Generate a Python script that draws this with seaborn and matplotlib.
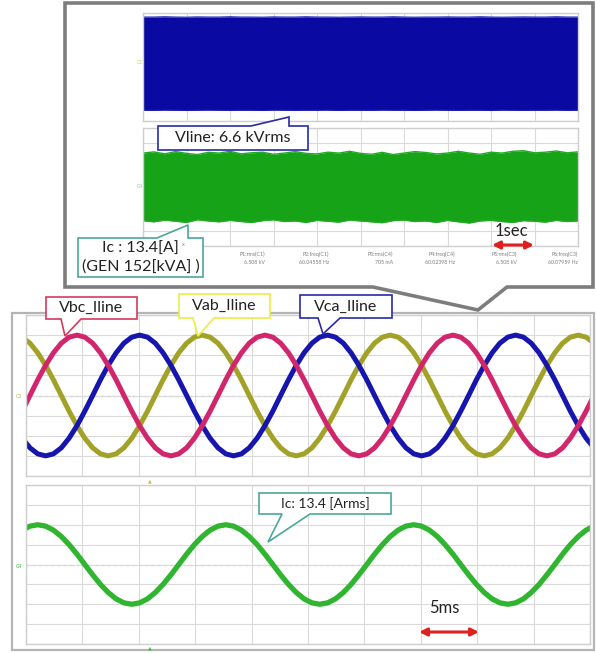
import numpy as np
import pandas as pd
import matplotlib
matplotlib.use("Agg")
import matplotlib.pyplot as plt
import seaborn as sns
from matplotlib.patches import Polygon

# ---------------- data ----------------
# bottom panels: time in ms (10 div x 5 ms), amplitude in divisions
t_ms = [-0.34, 0.35, 1.04, 1.74, 2.43, 3.13, 3.82, 4.52, 5.21, 5.91, 6.60, 7.29, 7.99, 8.68,
        9.38, 10.07, 10.77, 11.46, 12.15, 12.85, 13.54, 14.24, 14.93, 15.63, 16.32, 17.02,
        17.71, 18.40, 19.10, 19.79, 20.49, 21.18, 21.88, 22.57, 23.27, 23.96, 24.65, 25.35,
        26.04, 26.74, 27.43, 28.13, 28.82, 29.51, 30.21, 30.90, 31.60, 32.29, 32.99, 33.68,
        34.38, 35.07, 35.76, 36.46, 37.15, 37.85, 38.54, 39.24, 39.93, 40.63, 41.32, 42.01,
        42.71, 43.40, 44.10, 44.79, 45.49, 46.18, 46.88, 47.57, 48.26, 48.96, 49.65, 50.35]

vbc = [-0.78,
       0, 0.78, 1.5, 2.12, 2.6, 2.9, 3, 2.9, 2.6, 2.12, 1.5, 0.78,
       0, -0.78, -1.5, -2.12, -2.6, -2.9, -3, -2.9, -2.6, -2.12, -1.5, -0.78,
       0, 0.78, 1.5, 2.12, 2.6, 2.9, 3, 2.9, 2.6, 2.12, 1.5, 0.78,
       0, -0.78, -1.5, -2.12, -2.6, -2.9, -3, -2.9, -2.6, -2.12, -1.5, -0.78,
       0, 0.78, 1.5, 2.12, 2.6, 2.9, 3, 2.9, 2.6, 2.12, 1.5, 0.78,
       0, -0.78, -1.5, -2.12, -2.6, -2.9, -3, -2.9, -2.6, -2.12, -1.5, -0.78,
       0]

vca = [-2.12,
       -2.6, -2.9, -3, -2.9, -2.6, -2.12, -1.5, -0.78, 0, 0.78, 1.5, 2.12,
       2.6, 2.9, 3, 2.9, 2.6, 2.12, 1.5, 0.78, 0, -0.78, -1.5, -2.12,
       -2.6, -2.9, -3, -2.9, -2.6, -2.12, -1.5, -0.78, 0, 0.78, 1.5, 2.12,
       2.6, 2.9, 3, 2.9, 2.6, 2.12, 1.5, 0.78, 0, -0.78, -1.5, -2.12,
       -2.6, -2.9, -3, -2.9, -2.6, -2.12, -1.5, -0.78, 0, 0.78, 1.5, 2.12,
       2.6, 2.9, 3, 2.9, 2.6, 2.12, 1.5, 0.78, 0, -0.78, -1.5, -2.12,
       -2.6]

vab = [2.9,
       2.6, 2.12, 1.5, 0.78, 0, -0.78, -1.5, -2.12, -2.6, -2.9, -3, -2.9,
       -2.6, -2.12, -1.5, -0.78, 0, 0.78, 1.5, 2.12, 2.6, 2.9, 3, 2.9,
       2.6, 2.12, 1.5, 0.78, 0, -0.78, -1.5, -2.12, -2.6, -2.9, -3, -2.9,
       -2.6, -2.12, -1.5, -0.78, 0, 0.78, 1.5, 2.12, 2.6, 2.9, 3, 2.9,
       2.6, 2.12, 1.5, 0.78, 0, -0.78, -1.5, -2.12, -2.6, -2.9, -3, -2.9,
       -2.6, -2.12, -1.5, -0.78, 0, 0.78, 1.5, 2.12, 2.6, 2.9, 3, 2.9,
       2.6]

ic = [1.73,
      1.93, 2, 1.93, 1.73, 1.41, 1.0, 0.52, 0, -0.52, -1, -1.41, -1.73,
      -1.93, -2, -1.93, -1.73, -1.41, -1, -0.52, 0, 0.52, 1, 1.41, 1.73,
      1.93, 2, 1.93, 1.73, 1.41, 1.0, 0.52, 0, -0.52, -1, -1.41, -1.73,
      -1.93, -2, -1.93, -1.73, -1.41, -1, -0.52, 0, 0.52, 1, 1.41, 1.73,
      1.93, 2, 1.93, 1.73, 1.41, 1.0, 0.52, 0, -0.52, -1, -1.41, -1.73,
      -1.93, -2, -1.93, -1.73, -1.41, -1, -0.52, 0, 0.52, 1, 1.41, 1.73,
      1.93]

# top panels: 10 s record, envelopes (divisions)
t_s = [0, 0.25, 0.5, 0.75, 1, 1.25, 1.5, 1.75, 2, 2.25, 2.5, 2.75, 3, 3.25, 3.5, 3.75,
       4, 4.25, 4.5, 4.75, 5, 5.25, 5.5, 5.75, 6, 6.25, 6.5, 6.75, 7, 7.25, 7.5, 7.75,
       8, 8.25, 8.5, 8.75, 9, 9.25, 9.5, 9.75, 10]
vline_up = [3.70, 3.70, 3.72, 3.70, 3.69, 3.71, 3.70, 3.70, 3.72, 3.70, 3.70, 3.69, 3.71, 3.70,
            3.70, 3.72, 3.70, 3.70, 3.69, 3.70, 3.71, 3.70, 3.70, 3.72, 3.70, 3.69, 3.70, 3.70,
            3.71, 3.70, 3.70, 3.72, 3.70, 3.69, 3.70, 3.71, 3.70, 3.70, 3.72, 3.70, 3.70]
vline_lo = [-3.20, -3.21, -3.19, -3.20, -3.22, -3.20, -3.19, -3.20, -3.21, -3.20, -3.20, -3.22,
            -3.19, -3.20, -3.21, -3.20, -3.20, -3.19, -3.22, -3.20, -3.20, -3.21, -3.19, -3.20,
            -3.20, -3.22, -3.20, -3.19, -3.20, -3.21, -3.20, -3.20, -3.22, -3.19, -3.20, -3.21,
            -3.20, -3.20, -3.19, -3.21, -3.20]
ic_up = [2.30, 2.38, 2.25, 2.40, 2.28, 2.20, 2.35, 2.30, 2.42, 2.25, 2.32, 2.36, 2.22, 2.30,
         2.40, 2.28, 2.24, 2.36, 2.30, 2.42, 2.28, 2.22, 2.35, 2.20, 2.30, 2.40, 2.34, 2.24,
         2.30, 2.42, 2.30, 2.22, 2.36, 2.30, 2.42, 2.46, 2.32, 2.36, 2.44, 2.32, 2.38]
ic_lo = [-2.28, -2.36, -2.24, -2.32, -2.40, -2.22, -2.30, -2.36, -2.26, -2.34, -2.40, -2.28,
         -2.22, -2.34, -2.30, -2.40, -2.26, -2.32, -2.38, -2.24, -2.30, -2.36, -2.42, -2.28,
         -2.24, -2.34, -2.30, -2.40, -2.26, -2.36, -2.44, -2.30, -2.26, -2.34, -2.40, -2.28,
         -2.32, -2.38, -2.26, -2.34, -2.30]

meas_names = ["P1:rms(C1)", "P2:freq(C1)", "P3:rms(C4)", "P4:freq(C4)", "P5:rms(C3)", "P6:freq(C3)"]
meas_values = ["6.508 kV", "60.04558 Hz", "705 mA", "60.02398 Hz", "6.508 kV", "60.07959 Hz"]

phase_colors = {"Vbc_Iline": "#d2266c", "Vca_Iline": "#1616ae", "Vab_Iline": "#a3a228"}

# ---------------- figure ----------------
W, H = 596, 653
sns.set_theme(style="white")
plt.rcParams["font.family"] = ["Lato", "DejaVu Sans"]
fig = plt.figure(figsize=(W / 100, H / 100), dpi=100)
fig.patch.set_facecolor("white")


def px_axes(x0, y0, x1, y1, z=1):
    return fig.add_axes([x0 / W, 1 - y1 / H, (x1 - x0) / W, (y1 - y0) / H], zorder=z)


def style_panel(ax, xlim, ylim, nx=10, ny=8, center=True):
    ax.set_xlim(xlim)
    ax.set_ylim(ylim)
    ax.set_xticks(np.linspace(xlim[0], xlim[1], nx + 1))
    ax.set_yticks(np.linspace(ylim[0], ylim[1], ny + 1))
    ax.tick_params(length=0, labelbottom=False, labelleft=False)
    ax.grid(True, color="#dadada", lw=0.8)
    ax.set_axisbelow(True)
    for s in ax.spines.values():
        s.set_color("#cfcfcf")
        s.set_linewidth(1)
    ax.set_xlabel("")
    ax.set_ylabel("")
    if center:
        ax.axhline(0, color="#a8a8a8", lw=0.9, ls=(0, (2, 3)), zorder=0.5)


# top-left zoom panels (inside callout frame)
ax_v = px_axes(143, 13, 578, 121)
style_panel(ax_v, (0, 10), (-4, 4), center=False)
ax_v.fill_between(t_s, vline_lo, vline_up, color="#0a0aa2", lw=0)
sns.lineplot(x=t_s, y=vline_up, ax=ax_v, color="#1a1ab4", lw=0.8, estimator=None)
sns.lineplot(x=t_s, y=vline_lo, ax=ax_v, color="#1a1ab4", lw=0.8, estimator=None)

ax_g = px_axes(143, 128, 578, 246)
style_panel(ax_g, (0, 10), (-4, 4), center=False)
ax_g.fill_between(t_s, ic_lo, ic_up, color="#17a317", lw=0)
sns.lineplot(x=t_s, y=ic_up, ax=ax_g, color="#22aa22", lw=1.0, estimator=None)
sns.lineplot(x=t_s, y=ic_lo, ax=ax_g, color="#22aa22", lw=1.0, estimator=None)

# three-phase panel
df3 = pd.DataFrame({
    "t": t_ms * 3,
    "v": vbc + vca + vab,
    "phase": ["Vbc_Iline"] * len(t_ms) + ["Vca_Iline"] * len(t_ms) + ["Vab_Iline"] * len(t_ms),
})
ax3 = px_axes(26, 315, 590, 476)
style_panel(ax3, (0, 50), (-4, 4))
sns.lineplot(data=df3, x="t", y="v", hue="phase", hue_order=["Vab_Iline", "Vca_Iline", "Vbc_Iline"],
             palette=phase_colors, lw=3.6, ax=ax3, legend=False, estimator=None, sort=False)
ax3.set_xlim(0, 50)
ax3.set_ylim(-4, 4)
ax3.set_xlabel("")
ax3.set_ylabel("")

# current panel
ax4 = px_axes(26, 485, 590, 644)
style_panel(ax4, (0, 50), (-4, 4))
sns.lineplot(x=t_ms, y=ic, ax=ax4, color="#30b530", lw=3.8, estimator=None)
ax4.set_xlim(0, 50)
ax4.set_ylim(-4, 4)
ax4.set_xlabel("")
ax4.set_ylabel("")

# ---------------- overlay (frames, callouts, notes) ----------------
ov = fig.add_axes([0, 0, 1, 1], zorder=10)
ov.set_xlim(0, W)
ov.set_ylim(H, 0)
ov.axis("off")
ov.patch.set_alpha(0)

# top callout frame
ov.add_patch(Polygon([(65, 3), (593, 3), (593, 287), (507, 287), (478, 310), (373, 287), (65, 287)],
                     closed=True, fill=False, edgecolor="#7d7d7d", lw=2.6, joinstyle="miter"))
# bottom frame
ov.add_patch(Polygon([(12, 313), (594, 313), (594, 650), (12, 650)], closed=True, fill=False,
                     edgecolor="#b5b5b5", lw=1.6))


def callout(x0, y0, x1, y1, tip, base, side, ec, lw=1.2):
    bx0, bx1 = base
    if side == "top":
        pts = [(x0, y0), (bx0, y0), tip, (bx1, y0), (x1, y0), (x1, y1), (x0, y1)]
    else:
        pts = [(x0, y0), (x1, y0), (x1, y1), (bx1, y1), tip, (bx0, y1), (x0, y1)]
    ov.add_patch(Polygon(pts, closed=True, facecolor="white", edgecolor=ec, lw=lw, joinstyle="miter"))


txt_col = "#222222"
# Vline
callout(158, 126, 308, 150, (289, 117), (251, 289), "top", "#2a2aa8")
ov.text(233, 138.5, "Vline: 6.6 kVrms", ha="center", va="center", fontsize=11.5, color=txt_col)
# Ic top
callout(78, 238, 203, 277, (188, 225), (157, 188), "top", "#4aa898")
ov.text(140.5, 248.5, "Ic : 13.4[A]", ha="center", va="center", fontsize=11.5, color=txt_col)
ov.text(140.5, 266.5, "(GEN 152[kVA] )", ha="center", va="center", fontsize=11.5, color=txt_col)

# measurement row
meas_right = [265, 329, 393, 455, 517, 578]
for xr, nm, vl in zip(meas_right, meas_names, meas_values):
    ov.text(xr, 254, nm, ha="right", va="center", fontsize=3.8, color="#808080")
    ov.text(xr, 262.5, vl, ha="right", va="center", fontsize=3.8, color="#808080")
ov.text(183, 245, "x", ha="center", va="center", fontsize=4, color="#3cb43c")
ov.text(143, 62, "C1", ha="right", va="center", fontsize=3.5, color="#c8c860")
ov.text(143, 187, "C4", ha="right", va="center", fontsize=3.5, color="#8acc8a")

# 1sec marker
ov.text(511, 231, "1sec", ha="center", va="center", fontsize=12, color=txt_col)
ov.annotate("", xy=(492, 245), xytext=(534, 245),
            arrowprops=dict(arrowstyle="<|-|>", color="#e0201e", lw=2.2, mutation_scale=11,
                            shrinkA=0, shrinkB=0))

# phase callouts
callout(46, 297, 137, 319, (65, 336), (61, 81), "bottom", "#d43a5c")
ov.text(91.5, 308, "Vbc_Iline", ha="center", va="center", fontsize=11.5, color=txt_col)
callout(179, 294, 270, 318, (198, 336), (193, 214), "bottom", "#ecec48")
ov.text(224.5, 306, "Vab_Iline", ha="center", va="center", fontsize=11.5, color=txt_col)
callout(300, 295, 392, 318, (323, 334), (318, 340), "bottom", "#2a2aa8")
ov.text(346, 306.5, "Vca_Iline", ha="center", va="center", fontsize=11.5, color=txt_col)

# current callout
callout(259, 493, 391, 514, (268, 542), (282, 310), "bottom", "#4aa898")
ov.text(325, 503.5, "Ic: 13.4 [Arms]", ha="center", va="center", fontsize=10, color=txt_col)

# 5ms marker
ov.text(444, 608, "5ms", ha="center", va="center", fontsize=12, color=txt_col)
ov.annotate("", xy=(419, 632), xytext=(479, 632),
            arrowprops=dict(arrowstyle="<|-|>", color="#e0201e", lw=2.2, mutation_scale=11,
                            shrinkA=0, shrinkB=0))

# small channel markers
ov.text(22, 396, "C3", ha="right", va="center", fontsize=3.5, color="#b0b040")
ov.text(22, 566, "C4", ha="right", va="center", fontsize=3.5, color="#40b040")
ov.text(150, 481, "▲", ha="center", va="center", fontsize=3.5, color="#c8c040")
ov.text(150, 648, "▲", ha="center", va="center", fontsize=3.5, color="#40c040")

fig.savefig("out.png", dpi=100, facecolor="white")
